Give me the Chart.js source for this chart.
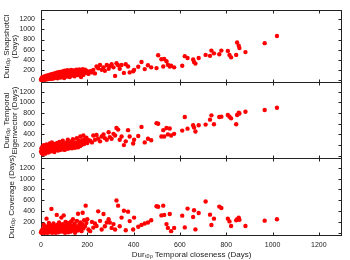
<!DOCTYPE html>
<html><head><meta charset="utf-8">
<script src="https://cdn.jsdelivr.net/npm/chart.js@4"></script>
<style>
html,body{margin:0;padding:0;background:#fff;}
#wrap{position:relative;width:350px;height:260px;overflow:hidden;}
#wrap canvas{position:absolute;left:0;top:0;}
</style></head><body>
<div id="wrap">
<canvas id="c1" width="350" height="260"></canvas>
<canvas id="c2" width="350" height="260"></canvas>
<canvas id="c3" width="350" height="260"></canvas>
</div>
<script>
// ---- data ----
const closeness = [0,2,3,5,6,8,10,11,12,14,15,17,18,20,21,23,24,26,28,29,31,33,34,36,38,40,41,43,45,47,49,50,52,54,56,58,60,62,64,66,68,70,72,74,76,78,80,82,84,86,88,90,92,94,96,98,100,102,104,106,108,110,112,114,116,118,120,122,124,126,128,130,132,134,136,138,140,143,145,147,150,152,155,158,160,163,165,168,170,173,175,178,180,183,186,190,193,196,200,205,
212,220,226,233,240,247,255,262,270,276,284,292,297,305,313,320,326,333,340,348,358,366,376,383,398,402,420,434,448,462,476,499,506,520,528,532,542,548,556,562,575,
610,621,633,657,661,667,681,711,730,736,747,770,779,807,814,821,843,847,854,857,883,966,1019];
const snapshotCl = [5,30,0,50,15,10,60,25,40,5,70,20,45,10,80,35,55,15,90,30,60,20,95,45,30,75,110,50,25,85,40,120,65,30,100,55,135,80,45,110,70,150,35,95,125,60,160,85,50,140,105,65,170,120,80,150,40,185,110,90,160,130,70,195,115,145,95,180,60,155,125,200,85,170,140,105,190,150,75,175,130,205,160,95,185,145,210,120,175,60,195,150,215,100,180,205,140,185,165,120,
175,150,200,130,265,230,295,200,250,180,295,220,270,310,250,80,330,290,220,295,140,310,265,150,170,200,260,355,215,290,250,235,490,410,265,415,370,300,265,280,250,
282,471,435,404,355,324,435,496,477,581,526,508,581,575,496,447,496,740,679,630,551,728,869];
const temporalEig = [80,140,50,110,170,30,120,90,200,60,150,100,40,180,130,70,210,110,160,90,60,190,140,100,230,120,80,170,110,250,140,90,200,120,160,70,220,150,110,190,130,240,170,100,200,140,260,110,180,150,210,120,170,280,140,190,230,110,160,200,150,250,180,130,300,170,210,140,240,190,160,220,270,140,190,310,170,230,200,150,250,190,330,210,160,280,230,180,360,240,200,290,250,380,220,310,270,340,240,290,
280,250,380,300,390,320,270,360,400,330,300,440,350,320,410,380,520,490,300,360,200,270,480,360,230,300,370,540,250,320,290,610,600,360,480,360,520,400,510,380,410,
471,725,508,570,527,453,570,583,676,756,589,725,732,763,732,700,589,763,806,790,825,856,899];
const coverage = [10,30,0,50,20,5,80,40,150,20,0,60,110,30,10,90,260,40,0,120,70,20,180,50,10,140,90,30,440,60,0,110,40,170,80,20,130,60,0,100,330,40,150,70,10,190,90,30,140,60,280,110,20,160,70,320,40,120,0,200,80,30,130,60,180,10,100,50,160,90,20,210,70,130,40,250,100,60,170,0,120,80,220,40,350,90,150,60,190,100,30,160,370,80,230,120,500,180,250,60,
30,200,95,170,125,395,220,60,345,120,190,250,190,90,160,60,595,500,120,280,405,45,390,215,60,280,110,145,170,190,230,490,480,320,500,330,160,90,345,30,90,
316,99,446,291,415,62,365,576,334,142,260,483,458,260,210,124,229,248,279,240,124,223,248];
const xTicks = [0,200,400,600,800,1000,1200];
const yTicks = [0,200,400,600,800,1000,1200];

// ---- drawing ----
const FONT = "'Liberation Sans', Arial, sans-serif";
const INK = '#222';
const framePlugin = {
  id: 'frame',
  beforeDatasetsDraw(chart) {
    const {ctx, chartArea: a, scales: {x, y}} = chart;
    ctx.save();
    ctx.strokeStyle = INK; ctx.lineWidth = 1;
    const L = Math.round(a.left) + 0.5, R = Math.round(a.right) - 0.5;
    const T = Math.round(a.top) + 0.5, B = Math.round(a.bottom) - 0.5;
    ctx.strokeRect(L, T, R - L, B - T);
    ctx.beginPath();
    xTicks.forEach(v => { const p = Math.round(x.getPixelForValue(v)) + 0.5;
      ctx.moveTo(p, T); ctx.lineTo(p, T + 3); ctx.moveTo(p, B); ctx.lineTo(p, B - 3); });
    yTicks.forEach(v => { const p = Math.round(y.getPixelForValue(v)) + 0.5;
      ctx.moveTo(L, p); ctx.lineTo(L + 3, p); ctx.moveTo(R, p); ctx.lineTo(R - 3, p); });
    ctx.stroke();
    ctx.restore();
  }
};

function makePanel(id, values, yTitle, top, bottom, showX, titlePad) {
  new Chart(document.getElementById(id), {
    type: 'scatter',
    data: { datasets: [{
      data: closeness.map((x, i) => ({x: x, y: values[i]})),
      backgroundColor: '#ff0000', borderWidth: 0, pointRadius: 2.2, clip: false
    }]},
    options: {
      responsive: false, animation: false, events: [],
      layout: { padding: { top: top, bottom: showX ? 0 : 260 - bottom, left: 0, right: 8 } },
      plugins: { legend: { display: false }, tooltip: { enabled: false } },
      scales: {
        x: {
          type: 'linear', min: 0, max: 1300, display: showX,
          afterBuildTicks: s => { s.ticks = xTicks.map(v => ({value: v})); },
          afterFit: s => { if (showX) s.height = 260 - bottom; },
          grid: { display: false, drawTicks: false }, border: { display: false },
          ticks: { padding: 5, maxRotation: 0, color: INK, font: { family: FONT, size: 7 },
                   callback: v => String(v) },
          title: { display: true, text: 'Durₜₒₚ Temporal closeness (Days)', color: INK,
                   padding: { top: 0, bottom: 0 }, font: { family: FONT, size: 8, lineHeight: 1.2 } }
        },
        y: {
          type: 'linear', min: -60, max: 1380,
          afterBuildTicks: s => { s.ticks = yTicks.map(v => ({value: v})); },
          afterFit: s => { s.width = 41; },
          grid: { display: false, drawTicks: false }, border: { display: false },
          ticks: { padding: 6, color: INK, font: { family: FONT, size: 7 }, callback: v => String(v) },
          title: { display: true, text: yTitle, color: INK,
                   padding: { top: titlePad, bottom: 0 }, font: { family: FONT, size: 8, lineHeight: 0.95 } }
        }
      }
    },
    plugins: [framePlugin]
  });
}

makePanel('c1', snapshotCl, ['Durₜₒₚ SnapshotCl', '(Days)'], 6, 83, false, 3);
makePanel('c2', temporalEig, ['Durₜₒₚ Temporal', 'Eigenvector (Days)'], 82, 159, false, 3);
makePanel('c3', coverage, 'Durₜₒₚ Coverage (Days)', 158, 236, true, 8);
</script>
</body></html>
